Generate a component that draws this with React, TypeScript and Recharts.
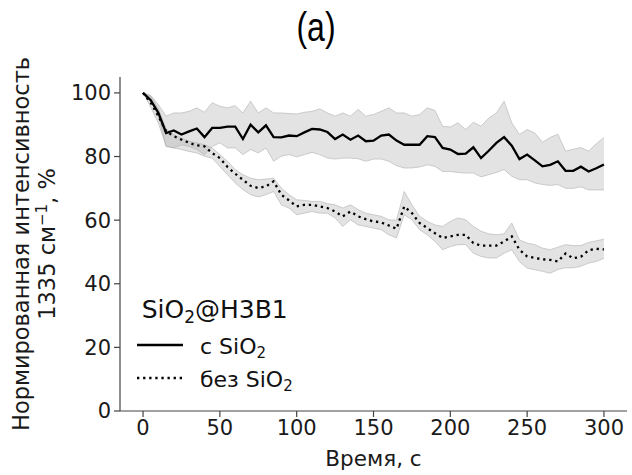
import { ComposedChart, Area, Line, XAxis, YAxis, Legend } from 'recharts';

// time, s
const time = [
  0, 5, 10, 15, 20, 25, 30, 35, 40, 45, 50, 55, 60, 65, 70, 75, 80, 85, 90, 95,
  100, 105, 110, 115, 120, 125, 130, 135, 140, 145, 150, 155, 160, 165, 170, 175, 180, 185, 190, 195,
  200, 205, 210, 215, 220, 225, 230, 235, 240, 245, 250, 255, 260, 265, 270, 275, 280, 285, 290, 295, 300,
];

// с SiO2: mean, lower, upper
const withSiO2 = [
  100, 97.7, 93.7, 87.4, 88.2, 86.9, 87.9, 88.8, 86.1, 89.0, 89.0, 89.4, 89.4, 85.5, 90.0, 87.6, 89.8, 86.1, 86.0, 86.6,
  86.4, 87.6, 88.7, 88.5, 87.7, 85.5, 86.9, 85.3, 86.6, 84.8, 85.0, 86.6, 86.9, 85.0, 83.7, 83.7, 83.7, 86.4, 86.1, 82.7,
  82.2, 80.8, 80.9, 82.9, 79.5, 81.8, 84.3, 86.1, 83.4, 79.2, 80.6, 78.8, 76.9, 77.4, 78.5, 75.5, 75.5, 76.8, 75.3, 76.3, 77.5,
];
const withSiO2Low = [
  100, 97.9, 92.7, 83.2, 82.7, 83.7, 83.2, 82.2, 80.6, 83.2, 84.3, 82.7, 82.7, 80.6, 82.2, 81.1, 82.7, 78.5, 80.1, 80.6,
  79.9, 80.6, 81.3, 80.6, 79.5, 79.2, 79.5, 79.5, 79.3, 78.5, 79.2, 79.2, 78.5, 77.1, 76.4, 76.4, 76.7, 77.4, 76.9, 75.3,
  75.3, 75.0, 74.8, 74.8, 73.6, 74.3, 75.0, 75.9, 73.8, 72.7, 72.7, 71.7, 71.2, 70.9, 71.2, 70.0, 70.0, 70.5, 69.5, 69.5, 69.5,
];
const withSiO2High = [
  100, 99.2, 96.3, 92.7, 93.7, 93.7, 94.2, 95.3, 93.9, 96.9, 95.8, 95.3, 96.0, 93.7, 97.4, 93.7, 95.3, 93.7, 93.7, 93.5,
  93.4, 93.9, 94.2, 95.0, 93.7, 92.7, 93.7, 92.7, 94.8, 92.7, 93.2, 94.2, 95.3, 93.7, 93.7, 92.7, 93.2, 95.3, 94.5, 89.5,
  89.3, 90.6, 88.5, 90.8, 89.5, 92.1, 93.7, 97.4, 90.6, 86.9, 88.5, 87.4, 84.5, 86.0, 87.0, 81.7, 82.3, 82.8, 81.7, 84.0, 86.0,
];

// без SiO2: mean, lower, upper
const noSiO2 = [
  100, 96.9, 92.7, 87.9, 86.4, 85.3, 84.3, 83.5, 83.2, 81.1, 79.5, 76.7, 74.6, 72.7, 70.8, 70.1, 70.6, 72.2, 68.0, 66.2,
  64.3, 64.8, 64.8, 64.3, 63.8, 62.7, 61.2, 62.7, 61.2, 60.3, 59.6, 59.3, 58.3, 57.3, 64.3, 62.2, 59.1, 57.5, 55.9, 54.4,
  54.9, 55.4, 55.4, 52.8, 52.0, 52.0, 52.0, 53.3, 54.9, 50.7, 48.6, 48.1, 47.7, 47.5, 47.0, 49.5, 48.0, 48.5, 50.5, 51.0, 50.8,
];
const noSiO2Low = [
  100, 95.5, 90.5, 83.2, 82.7, 82.2, 81.6, 81.1, 80.1, 79.5, 76.9, 74.3, 71.7, 69.6, 68.0, 67.3, 68.0, 69.0, 64.8, 63.8,
  61.7, 62.2, 62.7, 62.2, 62.2, 60.7, 58.0, 60.1, 58.5, 58.0, 57.5, 57.0, 55.4, 54.4, 61.7, 60.1, 57.0, 55.4, 53.3, 50.7,
  51.7, 52.3, 52.3, 49.6, 48.6, 48.1, 48.1, 49.6, 50.7, 47.0, 44.9, 44.4, 43.9, 43.3, 44.5, 45.0, 45.0, 45.5, 46.5, 47.0, 48.0,
];
const noSiO2High = [
  100, 99.0, 95.0, 88.7, 86.9, 85.8, 84.8, 84.3, 83.7, 82.7, 80.6, 78.5, 75.9, 74.3, 73.2, 72.7, 72.9, 73.2, 70.1, 68.0,
  66.4, 66.2, 65.9, 65.9, 65.2, 64.8, 63.8, 64.8, 63.3, 62.2, 61.7, 61.2, 60.1, 60.0, 69.0, 64.8, 61.2, 59.6, 58.5, 58.0,
  59.6, 60.7, 60.1, 58.0, 56.5, 55.7, 55.4, 55.7, 59.1, 53.8, 52.8, 52.3, 51.2, 50.7, 51.5, 52.3, 52.0, 52.0, 53.0, 53.5, 54.0,
];

const xTicks = [0, 50, 100, 150, 200, 250, 300];
const yTicks = [0, 20, 40, 60, 80, 100];

const data = time.map((t, i) => ({
  t,
  withSiO2: withSiO2[i],
  withBand: [withSiO2Low[i], withSiO2High[i]],
  noSiO2: noSiO2[i],
  noBand: [noSiO2Low[i], noSiO2High[i]],
}));

const font = 'DejaVu Sans';
const tickStyle = { fontSize: 21, fill: '#1a1a1a', fontFamily: font };
const axisColor = '#444';

const renderLegend = () => (
  <svg width={200} height={110} style={{ display: 'block' }}>
    <text x={11.7} y={28} fontSize={25} fontFamily={font} fill="#111">
      SiO<tspan fontSize={17} dy={5}>2</tspan>
      <tspan dy={-5}>@H3B1</tspan>
    </text>
    <line x1={7} x2={53} y1={55} y2={55} stroke="#000" strokeWidth={2.3} />
    <text x={70} y={64} fontSize={22} fontFamily={font} fill="#111">
      с SiO<tspan fontSize={15} dy={4}>2</tspan>
    </text>
    <line x1={7} x2={53} y1={88} y2={88} stroke="#000" strokeWidth={2.3} strokeDasharray="2.3 3.8" />
    <text x={70} y={97} fontSize={22} fontFamily={font} fill="#111">
      без SiO<tspan fontSize={15} dy={4}>2</tspan>
    </text>
  </svg>
);

export default function App() {
  return (
    <div style={{ position: 'absolute', left: 0, top: 0, width: 632, height: 475, background: '#fff' }}>
      <ComposedChart width={632} height={475} data={data} margin={{ top: 77, right: 5, bottom: 0, left: 0 }}>
        <XAxis
          dataKey="t"
          type="number"
          domain={[-15, 315]}
          ticks={xTicks}
          tick={tickStyle}
          tickSize={6}
          tickMargin={3}
          height={64}
          stroke={axisColor}
          strokeWidth={1.2}
          allowDataOverflow
        />
        <YAxis
          type="number"
          domain={[0, 105]}
          ticks={yTicks}
          tick={tickStyle}
          tickSize={6}
          tickMargin={3}
          width={120}
          stroke={axisColor}
          strokeWidth={1.2}
          allowDataOverflow
        />
        <Area type="linear" dataKey="withBand" fill="#b0b0b0" fillOpacity={0.35} stroke="#b0b0b0" strokeOpacity={0.6} strokeWidth={1} dot={false} activeDot={false} isAnimationActive={false} />
        <Area type="linear" dataKey="noBand" fill="#b0b0b0" fillOpacity={0.35} stroke="#b0b0b0" strokeOpacity={0.6} strokeWidth={1} dot={false} activeDot={false} isAnimationActive={false} />
        <Line type="linear" dataKey="withSiO2" stroke="#000" strokeWidth={2.3} dot={false} activeDot={false} isAnimationActive={false} />
        <Line type="linear" dataKey="noSiO2" stroke="#000" strokeWidth={2.3} strokeDasharray="2.3 3.8" dot={false} activeDot={false} isAnimationActive={false} />
        <Legend
          layout="horizontal"
          verticalAlign="middle"
          align="center"
          content={renderLegend}
          wrapperStyle={{ left: 130, top: 290, width: 200, height: 110 }}
        />
      </ComposedChart>
      <svg width={632} height={475} style={{ position: 'absolute', left: 0, top: 0, pointerEvents: 'none' }}>
        <text x={316} y={40.8} textAnchor="middle" fontSize={40} fontFamily="Liberation Sans" fill="#000" transform="translate(316 0) scale(0.8 1) translate(-316 0)">
          (a)
        </text>
        <text x={373.5} y={466} textAnchor="middle" fontSize={21.5} fontFamily={font} fill="#1a1a1a">
          Время, с
        </text>
        <text x={29} y={244} textAnchor="middle" fontSize={22.5} fontFamily={font} fill="#1a1a1a" transform="rotate(-90 29 244)">
          Нормированная интенсивность
        </text>
        <text x={55} y={244} textAnchor="middle" fontSize={22.5} fontFamily={font} fill="#1a1a1a" transform="rotate(-90 55 244)">
          1335 см<tspan fontSize={15} dy={-8}>−1</tspan><tspan dy={8}>, %</tspan>
        </text>
      </svg>
    </div>
  );
}
